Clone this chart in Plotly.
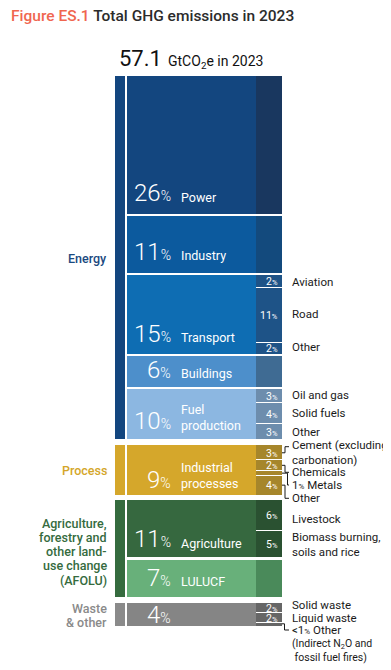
import plotly.graph_objects as go

# ---------------- data ----------------
sectors = ["Power", "Industry", "Transport", "Buildings", "Fuel<br>production",
           "Industrial<br>processes", "Agriculture", "LULUCF", ""]
shares = [26.4, 10.9, 15.2, 5.9, 9.7, 9.4, 11.0, 7.0, 4.5]
share_labels = ["26", "11", "15", "6", "10", "9", "11", "7", "4"]
sector_group = [0, 0, 0, 0, 0, 1, 2, 2, 3]
groups = ["Energy", "Process",
          "Agriculture,<br>forestry and<br>other land-<br>use change<br>(AFOLU)",
          "Waste<br>& other"]

sub_parent = [0, 1, 2, 2, 2, 3, 4, 4, 4, 5, 5, 5, 5, 6, 6, 7, 8, 8, 8]
sub_values = [26.4, 10.9, 2.5, 10.5, 2.2, 5.9, 2.8, 4.0, 2.9,
              2.8, 2.0, 1.0, 3.6, 6.1, 4.9, 7.0, 2.0, 1.9, 0.6]
sub_labels = ["", "", "2", "11", "2", "", "3", "4", "3",
              "3", "2", "", "4", "6", "5", "", "2", "2", ""]
sub_names = ["", "", "Aviation", "Road", "Other", "", "Oil and gas", "Solid fuels", "Other",
             "Cement (excluding<br>carbonation)", "Chemicals", "1<span style='font-size:8px'>%</span> Metals",
             "Other", "Livestock", "Biomass burning,<br>soils and rice", "",
             "Solid waste", "Liquid waste",
             "<1<span style='font-size:8px'>%</span> Other"]
total_value = "57.1"

# ---------------- styles ----------------
main_colors = ["#13467f", "#0c5a9e", "#0e6db3", "#4d8fcb", "#8cb7e1",
               "#d5a72b", "#36683f", "#68b07a", "#858585"]
sub_colors = ["#19375f", "#134a7d", "#1e5387", "#3f6b93", "#6d8dad",
              "#a6862b", "#2a5131", "#4a8a5a", "#666666"]
group_colors = ["#13467f", "#d5a72b", "#356b3e", "#8a8a8a"]
group_text_colors = ["#1b4a80", "#d4a62a", "#356b3e", "#8a8a8a"]

PAGE_OFF = 8                   # browser body margin
W, H = 391 - PAGE_OFF, 670 - PAGE_OFF
TOP_PX = 76
K = 5.22                       # px per percentage point
gap_after_px = [2, 2, 2, 2, 6, 5, 3, 6]
SEP = 1.0 / K                  # white separator within sub column
FONT = "Roboto"
NAME_SIZE = 11.5


def px2y(py):
    return (py - TOP_PX) / K


# sector starts (data units, cumulative + gaps)
starts = []
pos = 0.0
for i, v in enumerate(shares):
    starts.append(pos)
    pos += v
    if i < len(gap_after_px):
        pos += gap_after_px[i] / K

fig = go.Figure()

# group strips
for g in range(len(groups)):
    idx = [i for i, s in enumerate(sector_group) if s == g]
    g0 = starts[idx[0]]
    g1 = starts[idx[-1]] + shares[idx[-1]]
    fig.add_trace(go.Bar(x=[120], y=[g1 - g0], base=[g0], width=[10],
                         marker=dict(color=group_colors[g], line=dict(width=0)),
                         hoverinfo="skip", showlegend=False))

# main sector bars
fig.add_trace(go.Bar(x=[191.5] * len(shares), y=shares, base=starts, width=[129] * len(shares),
                     marker=dict(color=main_colors, line=dict(width=0)),
                     hoverinfo="skip", showlegend=False))

# sub column
sub_starts = []
sub_heights = []
sub_cols = []
cum = {}
for j, p in enumerate(sub_parent):
    off = cum.get(p, 0.0)
    s = starts[p] + off
    cum[p] = off + sub_values[j]
    last = (j == len(sub_parent) - 1) or (sub_parent[j + 1] != p)
    sub_starts.append(s)
    sub_heights.append(sub_values[j] - (0 if last else SEP))
    sub_cols.append(sub_colors[p])
fig.add_trace(go.Bar(x=[269] * len(sub_values), y=sub_heights, base=sub_starts,
                     width=[26] * len(sub_values),
                     marker=dict(color=sub_cols, line=dict(width=0)),
                     hoverinfo="skip", showlegend=False))

ann = []

# header
ann.append(dict(x=8.5, y=16, yanchor="middle", xanchor="left",
                text="<span style='color:#f0664f'>Figure ES.1</span> Total GHG emissions in 2023",
                font=dict(family=FONT, size=15.5, color="#2b2b2b", weight=500), showarrow=False))
ann.append(dict(x=164, y=58.5, text=total_value, xanchor="right", yanchor="middle",
                font=dict(family=FONT, size=22, color="#111"), showarrow=False))
ann.append(dict(x=166, y=61.5, text="GtCO<sub>2</sub>e in 2023", xanchor="left", yanchor="middle",
                font=dict(family=FONT, size=14, color="#111"), showarrow=False))

# main labels (pixel positions of text centres)
num_py = [193, 251.5, 333.5, 369.5, 421, 479.5, 538.5, 577.5, 615]
lab_py = [197, 255.5, 337.5, 373.5, 417.5, 475, 543, 581.5, 0]
for i in range(len(shares)):
    ann.append(dict(x=173, y=num_py[i], xanchor="right", yanchor="middle",
                    text=share_labels[i] + "<span style='font-size:14px'>%</span>",
                    font=dict(family=FONT, size=24, color="white", weight=300), showarrow=False))
    if sectors[i]:
        ann.append(dict(x=179, y=lab_py[i], xanchor="left", yanchor="middle",
                        text=sectors[i], align="left",
                        font=dict(family=FONT, size=12.5, color="white"), showarrow=False))

# sub labels inside column
for j in range(len(sub_values)):
    if sub_labels[j]:
        c = sub_starts[j] + sub_values[j] / 2
        ann.append(dict(x=279.5, y=(c * K + TOP_PX) + 0.5, xanchor="right", yanchor="middle",
                        text=sub_labels[j] + "<span style='font-size:7.5px'>%</span>",
                        font=dict(family=FONT, size=10.5, color="white"), showarrow=False))

# right-hand names (pixel centre of text block)
name_py = {2: 281.7, 3: 314, 4: 347, 6: 394.5, 7: 413, 8: 432,
           9: 452.5, 10: 472.3, 11: 485, 12: 498.3, 13: 519, 14: 544.5,
           16: 605, 17: 617.7, 18: 630}
for j, py in name_py.items():
    ann.append(dict(x=290, y=py, xanchor="left", yanchor="middle", text=sub_names[j],
                    align="left", font=dict(family=FONT, size=NAME_SIZE, color="#1a1a1a"),
                    showarrow=False))
ann.append(dict(x=290, y=650.5, xanchor="left", yanchor="middle",
                text="(Indirect N<sub>2</sub>O and<br> fossil fuel fires)", align="left",
                font=dict(family=FONT, size=10.5, color="#1a1a1a"), showarrow=False))

# group labels
grp_lines = [[("Energy", 258)], [("Process", 470)],
             [("Agriculture,", 523), ("forestry and", 537.3), ("other land-", 551.6),
              ("use change", 565.9), ("(AFOLU)", 580.2)],
             [("Waste", 608), ("& other", 622)]]
for g, lines in enumerate(grp_lines):
    for t, py in lines:
        ann.append(dict(x=108.5, y=py, xanchor="right", yanchor="middle", text=t,
                        font=dict(family=FONT, size=12.5, color=group_text_colors[g], weight=500),
                        showarrow=False))

# convert annotation pixel y to data units
for a in ann:
    a["y"] = px2y(a["y"])
    a["xref"] = "x"
    a["yref"] = "y"

# leader lines (start at sub-segment centre, end at label line)
leaders = [(9, 285, 446.7), (10, 285, 472.3), (11, 287.5, 485), (12, 285, 498.3), (18, 284.5, 630)]
shapes = []
for j, ex, ey in leaders:
    c = sub_starts[j] + sub_values[j] / 2
    if j == 18:
        c = sub_starts[j] + sub_values[j] * 0.3
    path = f"M 282,{c} L {ex},{c} L {ex},{px2y(ey)} L 289,{px2y(ey)}"
    shapes.append(dict(type="path", path=path, xref="x", yref="y",
                       line=dict(color="#1a1a1a", width=1)))

fig.update_layout(
    width=W, height=H, margin=dict(l=0, r=0, t=0, b=0),
    paper_bgcolor="white", plot_bgcolor="white",
    barmode="overlay", bargap=0,
    xaxis=dict(range=[PAGE_OFF, 391], visible=False, fixedrange=True),
    yaxis=dict(range=[px2y(670), px2y(PAGE_OFF)], visible=False, fixedrange=True),
    annotations=ann, shapes=shapes, showlegend=False,
)

fig.write_html("out.html", config={"displayModeBar": False})
